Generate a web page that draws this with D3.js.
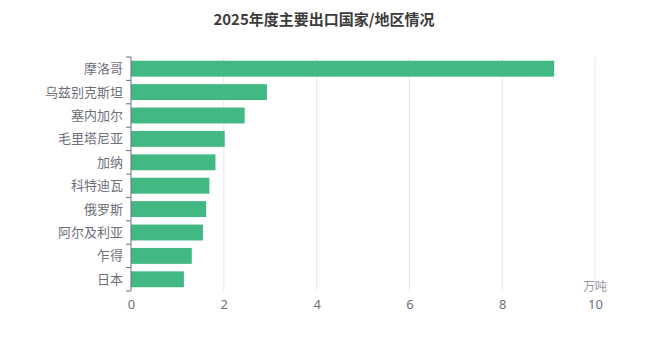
<!DOCTYPE html>
<html>
<head>
<meta charset="utf-8">
<script src="https://cdn.jsdelivr.net/npm/d3@7"></script>
<style>
  html, body { margin: 0; padding: 0; background: #fff; }
  svg { display: block; font-family: "Noto Sans CJK SC", "Noto Sans", sans-serif; }
</style>
</head>
<body>
<svg id="chart" width="671" height="340"></svg>
<script>
const title = "2025年度主要出口国家/地区情况";
const categories = ["摩洛哥", "乌兹别克斯坦", "塞内加尔", "毛里塔尼亚", "加纳", "科特迪瓦", "俄罗斯", "阿尔及利亚", "乍得", "日本"];
const values = [9.12, 2.93, 2.45, 2.02, 1.82, 1.69, 1.62, 1.55, 1.31, 1.14];
const xTicks = [0, 2, 4, 6, 8, 10];
const unitLabel = "万吨";

const svg = d3.select("#chart");
const margin = { left: 131, right: 76, top: 57, bottom: 49 };
const W = 671, H = 340;

const x = d3.scaleLinear().domain([0, 10]).range([margin.left, W - margin.right]);
const y = d3.scaleBand().domain(categories).range([margin.top, H - margin.bottom])
  .paddingInner(0.32).paddingOuter(0.16);

// title
svg.append("text")
  .attr("x", 324).attr("y", 25)
  .attr("text-anchor", "middle")
  .attr("font-size", 15).attr("font-weight", "bold")
  .attr("fill", "#3c3c3c")
  .text(title);

// grid lines
svg.append("g").selectAll("line")
  .data(xTicks.filter(d => d > 0))
  .join("line")
  .attr("x1", d => x(d)).attr("x2", d => x(d))
  .attr("y1", margin.top).attr("y2", H - margin.bottom)
  .attr("stroke", "#e0e6f1").attr("stroke-width", 1);

// x axis labels (no line, no ticks)
const xAxis = d3.axisBottom(x).tickValues(xTicks).tickSize(0).tickPadding(0).tickFormat(d3.format("d"));
const gx = svg.append("g").attr("transform", `translate(0,309)`).call(xAxis);
gx.select(".domain").remove();
gx.selectAll("text").attr("font-size", 13).attr("fill", "#6e7079")
  .attr("font-family", "'Noto Sans', sans-serif").attr("dy", 0);

// unit label
svg.append("text")
  .attr("x", x(10)).attr("y", 291)
  .attr("text-anchor", "middle")
  .attr("font-size", 12).attr("fill", "#9a9a9a")
  .text(unitLabel);

// bars
svg.append("g").selectAll("rect")
  .data(values)
  .join("rect")
  .attr("x", x(0))
  .attr("y", (d, i) => y(categories[i]))
  .attr("width", d => x(d) - x(0))
  .attr("height", y.bandwidth())
  .attr("fill", "#42b983");

// y axis
const gy = svg.append("g").attr("transform", `translate(${x(0)},0)`);
gy.append("line")
  .attr("x1", 0).attr("x2", 0)
  .attr("y1", margin.top).attr("y2", H - margin.bottom)
  .attr("stroke", "#6e7079").attr("stroke-width", 1);
const step = y.step();
const bounds = d3.range(categories.length + 1).map(i => margin.top + i * step);
gy.selectAll("line.tick")
  .data(bounds)
  .join("line")
  .attr("class", "tick")
  .attr("x1", -5).attr("x2", 0)
  .attr("y1", d => d).attr("y2", d => d)
  .attr("stroke", "#6e7079").attr("stroke-width", 1);
gy.selectAll("text")
  .data(categories)
  .join("text")
  .attr("x", -8)
  .attr("y", d => y(d) + y.bandwidth() / 2)
  .attr("dy", "0.35em")
  .attr("text-anchor", "end")
  .attr("font-size", 13)
  .attr("fill", "#6e7079")
  .text(d => d);
</script>
</body>
</html>
